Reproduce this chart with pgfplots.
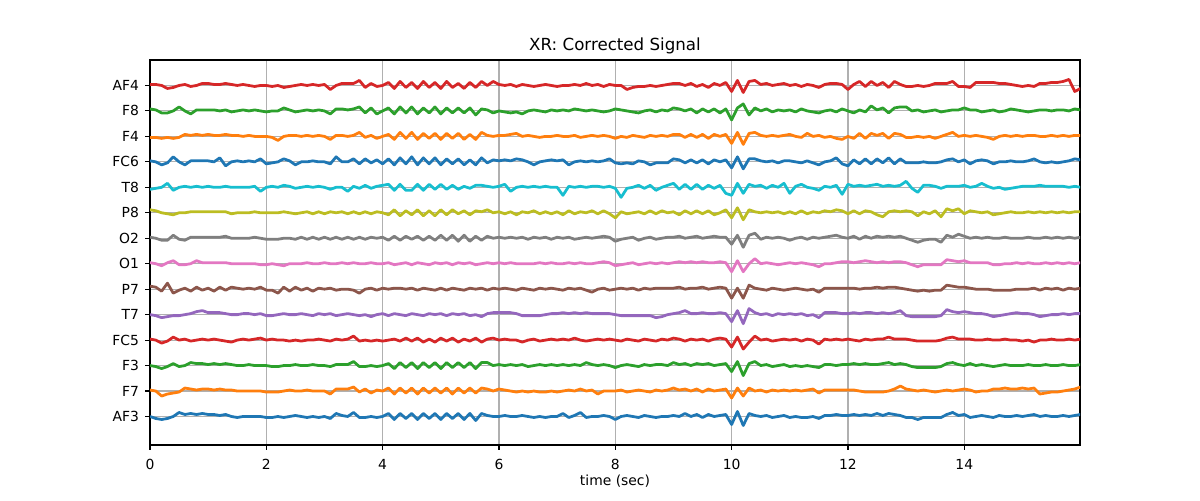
\documentclass[border=0pt]{standalone}
\usepackage{fontspec}
\setmainfont{DejaVu Sans}
\usepackage{pgfplots}
\pgfplotsset{compat=1.18}
\definecolor{tblue}{RGB}{31,119,180}
\definecolor{torange}{RGB}{255,127,14}
\definecolor{tgreen}{RGB}{44,160,44}
\definecolor{tred}{RGB}{214,39,40}
\definecolor{tpurple}{RGB}{148,103,189}
\definecolor{tbrown}{RGB}{140,86,75}
\definecolor{tpink}{RGB}{227,119,194}
\definecolor{tgray}{RGB}{127,127,127}
\definecolor{tolive}{RGB}{188,189,34}
\definecolor{tcyan}{RGB}{23,190,207}
\definecolor{gridgray}{RGB}{176,176,176}
\pgfplotsset{eeg/.style={line width=2pt, line join=round}}
\newcommand{\ch}[3]{\addplot[eeg,color=#1] table[row sep=\\,header=false,x expr=\coordindex*0.1,y expr=#2+(\thisrowno{0})/25.44]{#3};}
\begin{document}
\begin{tikzpicture}
\path[use as bounding box] (0,0) rectangle (864pt,360pt);
\begin{axis}[at={(108pt,39.6pt)}, anchor=south west, scale only axis,
 width=669.6pt, height=277.2pt,
 xmin=0, xmax=15.99, ymin=-1.12, ymax=14.0,
 xtick={0,2,...,14}, ytick={0,...,13},
 yticklabels={AF3,F7,F3,FC5,T7,P7,O1,O2,P8,T8,FC6,F4,F8,AF4},
 grid=major, major grid style={color=gridgray, line width=0.8pt},
 axis line style={line width=0.8pt}, tick style={black, line width=0.8pt},
 major tick length=3.5pt, tick align=outside,
 xtick pos=bottom, ytick pos=left,
 ticklabel style={font=\fontsize{10}{12}\selectfont},
 /pgf/number format/assume math mode=true,
 xticklabel style={anchor=base, inner sep=0pt, yshift=-14.4pt},
 yticklabel style={anchor=east, inner sep=0pt, xshift=-4.3pt},
 title={XR: Corrected Signal},
 title style={font=\fontsize{12}{14}\selectfont, at={(axis description cs:0.5,1)}, anchor=base, yshift=1pt, inner sep=0pt},
 xlabel={time (sec)},
 xlabel style={font=\fontsize{10}{12}\selectfont, at={(axis description cs:0.5,0)}, anchor=base, yshift=-28.8pt, inner sep=0pt},
]
% AF3
\ch{tblue}{0}{0\\-2\\-3\\-2\\0\\4\\2\\3\\2\\3\\
2\\2\\1\\2\\0\\-1\\0\\0\\0\\0\\
-1\\-1\\0\\-1\\0\\1\\0\\-1\\0\\-1\\
0\\-2\\3\\1\\0\\4\\-1\\-1\\0\\-1\\
0\\3\\-3\\3\\-2\\3\\-3\\3\\-2\\3\\
-3\\3\\-2\\3\\-3\\3\\-4\\3\\1\\0\\
0\\1\\0\\0\\1\\0\\-1\\0\\-1\\0\\
0\\3\\-1\\1\\4\\-1\\0\\0\\1\\0\\
-3\\0\\1\\0\\-1\\1\\0\\-1\\0\\0\\
1\\0\\3\\0\\2\\-1\\2\\0\\1\\2\\
-8\\5\\-9\\3\\1\\0\\1\\-1\\0\\1\\
-1\\0\\-1\\-1\\0\\-2\\1\\1\\2\\1\\
1\\2\\1\\2\\1\\3\\1\\3\\2\\1\\
-1\\-1\\-3\\-1\\-1\\-1\\-1\\2\\4\\1\\
2\\-1\\0\\1\\0\\-1\\1\\0\\0\\1\\
0\\1\\2\\0\\1\\0\\0\\1\\0\\1\\
2\\}
% F7
\ch{torange}{1}{1\\0\\-5\\-3\\-2\\-1\\3\\2\\1\\2\\
2\\1\\2\\1\\1\\0\\0\\0\\0\\0\\
-1\\-1\\-1\\0\\1\\0\\0\\1\\0\\0\\
0\\-3\\2\\2\\2\\4\\-1\\2\\-2\\1\\
0\\3\\-3\\3\\-2\\3\\-3\\3\\-2\\3\\
-2\\3\\-3\\3\\-2\\3\\-2\\3\\2\\0\\
2\\1\\0\\-1\\0\\-1\\0\\-1\\-1\\0\\
-1\\0\\1\\0\\2\\0\\1\\-3\\0\\0\\
0\\1\\-1\\0\\1\\0\\-1\\1\\0\\1\\
3\\1\\2\\0\\2\\-1\\2\\0\\1\\2\\
-7\\3\\-5\\3\\0\\1\\-1\\1\\0\\1\\
0\\1\\0\\1\\2\\-2\\1\\1\\1\\1\\
1\\1\\0\\-1\\-1\\-1\\-1\\0\\2\\5\\
2\\1\\0\\1\\0\\-1\\0\\1\\0\\1\\
2\\1\\-1\\0\\0\\2\\2\\3\\2\\2\\
3\\2\\3\\-3\\-2\\-1\\-1\\0\\1\\2\\
4\\}
% F3
\ch{tgreen}{2}{0\\-1\\-3\\-1\\2\\-1\\0\\3\\2\\2\\
1\\2\\1\\2\\1\\0\\0\\1\\0\\0\\
0\\-1\\-1\\0\\0\\1\\0\\0\\1\\0\\
0\\-1\\1\\1\\1\\4\\-1\\-1\\0\\-1\\
0\\2\\-3\\3\\-2\\3\\-3\\3\\-2\\3\\
-3\\3\\-2\\3\\-2\\3\\-3\\3\\3\\0\\
1\\0\\1\\0\\1\\-1\\0\\1\\0\\1\\
0\\1\\0\\1\\0\\3\\1\\0\\1\\0\\
-2\\0\\1\\0\\-1\\1\\0\\1\\1\\0\\
3\\1\\2\\0\\2\\1\\2\\0\\1\\2\\
-6\\4\\-10\\2\\4\\0\\1\\-1\\0\\1\\
-1\\0\\-1\\0\\-1\\-2\\1\\1\\0\\1\\
1\\2\\1\\2\\1\\1\\2\\3\\1\\2\\
1\\-1\\-2\\-2\\-2\\-2\\-1\\2\\3\\1\\
0\\2\\0\\1\\0\\-1\\0\\1\\0\\0\\
0\\1\\0\\0\\1\\0\\0\\1\\0\\0\\
1\\}
% FC5
\ch{tred}{3}{1\\0\\-3\\-1\\3\\0\\1\\-1\\0\\1\\
0\\1\\0\\-1\\-2\\0\\1\\0\\1\\2\\
0\\1\\0\\0\\-1\\0\\-1\\0\\0\\1\\
0\\-1\\1\\0\\1\\4\\-1\\0\\-1\\0\\
-1\\0\\1\\-1\\2\\-1\\2\\-2\\1\\-2\\
2\\-1\\2\\-2\\1\\-1\\2\\-2\\1\\2\\
0\\1\\0\\0\\-2\\0\\1\\-1\\0\\1\\
0\\1\\0\\2\\0\\-1\\0\\1\\0\\1\\
0\\-1\\1\\0\\-1\\1\\0\\-1\\1\\0\\
2\\1\\-1\\1\\0\\1\\-1\\1\\2\\1\\
-7\\3\\-9\\-2\\4\\0\\1\\-1\\0\\1\\
0\\1\\-1\\1\\0\\-4\\1\\0\\1\\0\\
1\\0\\-1\\1\\0\\1\\1\\3\\1\\1\\
1\\0\\-1\\-1\\-1\\-1\\0\\2\\3\\1\\
1\\1\\0\\0\\1\\0\\0\\1\\0\\0\\
-1\\0\\-2\\0\\0\\1\\0\\0\\1\\0\\
1\\}
% T7
\ch{tpurple}{4}{0\\-1\\-3\\-2\\-1\\-1\\0\\1\\3\\4\\
2\\2\\2\\1\\0\\0\\1\\1\\0\\1\\
-1\\-1\\0\\1\\0\\0\\1\\0\\-1\\1\\
0\\1\\-1\\0\\1\\0\\-1\\0\\-2\\0\\
1\\-1\\1\\0\\-1\\1\\0\\-1\\1\\0\\
1\\-1\\1\\0\\1\\-1\\0\\-2\\1\\2\\
2\\2\\2\\1\\-1\\-1\\-1\\-1\\0\\1\\
1\\2\\1\\2\\1\\2\\1\\1\\1\\1\\
0\\-1\\-1\\-1\\-1\\-1\\-1\\-3\\-2\\0\\
1\\2\\4\\1\\1\\2\\1\\1\\2\\1\\
-7\\4\\-9\\6\\2\\0\\1\\-1\\1\\0\\
1\\0\\1\\-1\\0\\-3\\2\\2\\2\\1\\
1\\2\\1\\2\\2\\1\\2\\1\\2\\4\\
-1\\-2\\-2\\-2\\-2\\-2\\-1\\5\\3\\2\\
3\\2\\1\\1\\0\\-2\\-1\\0\\1\\2\\
1\\1\\0\\-2\\-1\\0\\0\\1\\0\\1\\
1\\}
% P7
\ch{tbrown}{5}{3\\2\\-2\\6\\-4\\-1\\1\\-2\\2\\-1\\
1\\-2\\2\\-1\\2\\1\\0\\1\\0\\2\\
-1\\-1\\-4\\2\\-2\\2\\-1\\1\\-2\\1\\
0\\1\\-1\\0\\0\\-1\\-4\\0\\1\\-1\\
1\\0\\1\\1\\0\\1\\-1\\1\\0\\-1\\
1\\-1\\1\\0\\-1\\1\\0\\1\\-1\\1\\
0\\1\\0\\-1\\1\\0\\-1\\1\\0\\1\\
0\\-1\\1\\0\\1\\-1\\-3\\0\\1\\-1\\
0\\1\\0\\1\\-1\\1\\0\\1\\1\\1\\
1\\2\\0\\1\\1\\2\\0\\1\\2\\1\\
-9\\1\\-9\\4\\1\\0\\-1\\1\\0\\-1\\
0\\1\\0\\-1\\0\\-3\\1\\1\\1\\1\\
1\\1\\0\\1\\1\\2\\1\\2\\2\\1\\
0\\-1\\-2\\-1\\-2\\-1\\-1\\4\\3\\2\\
2\\1\\0\\0\\0\\-1\\-1\\-1\\-1\\0\\
0\\0\\1\\-1\\1\\0\\1\\-1\\1\\0\\
1\\}
% O1
\ch{tpink}{6}{1\\0\\-2\\1\\3\\-1\\-1\\0\\3\\1\\
1\\1\\1\\1\\0\\0\\0\\0\\0\\-1\\
-1\\0\\-1\\-2\\0\\0\\0\\1\\0\\0\\
1\\0\\0\\1\\0\\1\\0\\0\\1\\0\\
0\\1\\-1\\0\\1\\-1\\1\\0\\-1\\1\\
0\\1\\-1\\1\\0\\1\\-1\\0\\1\\0\\
1\\0\\1\\0\\0\\0\\0\\1\\0\\1\\
0\\0\\1\\0\\1\\0\\0\\1\\2\\1\\
-2\\-1\\0\\1\\-1\\0\\1\\0\\1\\0\\
1\\2\\1\\2\\1\\2\\1\\1\\2\\1\\
-8\\3\\-8\\0\\5\\0\\1\\0\\-1\\0\\
1\\0\\1\\0\\-1\\-3\\0\\0\\1\\2\\
2\\1\\2\\3\\2\\1\\2\\1\\2\\2\\
1\\-1\\-3\\-1\\-1\\-1\\-1\\4\\3\\2\\
3\\1\\1\\1\\1\\-1\\-1\\0\\0\\1\\
0\\1\\0\\0\\1\\0\\1\\0\\1\\0\\
1\\}
% O2
\ch{tgray}{7}{1\\0\\-2\\-2\\3\\-1\\-2\\1\\1\\1\\
1\\1\\1\\2\\0\\0\\0\\0\\1\\0\\
-1\\-1\\-1\\0\\0\\-1\\1\\-1\\1\\-1\\
1\\-1\\1\\-1\\1\\-1\\1\\-1\\1\\0\\
1\\-2\\2\\-2\\2\\-1\\2\\-2\\2\\-2\\
3\\-2\\3\\-3\\3\\-3\\2\\-2\\2\\0\\
1\\0\\1\\0\\1\\-1\\1\\0\\1\\-1\\
1\\0\\1\\-1\\0\\1\\0\\1\\2\\1\\
-3\\-1\\0\\1\\-2\\0\\1\\-1\\0\\1\\
1\\2\\0\\1\\2\\0\\1\\2\\1\\1\\
-6\\3\\-9\\3\\5\\-1\\1\\0\\1\\0\\
-2\\0\\1\\-1\\1\\0\\1\\2\\3\\1\\
0\\2\\-1\\2\\0\\2\\1\\2\\1\\2\\
0\\-2\\-4\\-2\\-1\\-1\\-4\\3\\1\\4\\
2\\0\\1\\0\\1\\0\\0\\1\\0\\0\\
0\\1\\0\\0\\1\\0\\1\\0\\1\\0\\
1\\}
% P8
\ch{tolive}{8}{3\\2\\0\\-1\\-2\\0\\0\\1\\1\\1\\
1\\1\\1\\1\\-1\\0\\0\\0\\1\\0\\
0\\0\\0\\1\\0\\-1\\0\\1\\-1\\1\\
-1\\1\\0\\1\\-1\\1\\-1\\1\\-1\\1\\
0\\-2\\3\\-3\\2\\-2\\3\\-3\\2\\-3\\
3\\-2\\3\\-1\\2\\-2\\2\\1\\3\\0\\
1\\-1\\1\\-2\\1\\0\\2\\-1\\1\\-1\\
1\\-2\\2\\-1\\1\\0\\2\\-1\\2\\-1\\
-5\\1\\-1\\0\\1\\-1\\2\\-1\\2\\0\\
1\\-2\\2\\-1\\2\\-1\\2\\-2\\0\\3\\
-5\\5\\-7\\3\\1\\0\\1\\0\\1\\-1\\
1\\-1\\2\\-1\\1\\0\\2\\1\\3\\2\\
-1\\2\\-1\\2\\1\\-2\\-4\\1\\2\\1\\
2\\1\\-3\\1\\-1\\2\\-4\\4\\2\\4\\
-1\\2\\1\\0\\1\\-2\\-1\\0\\1\\0\\
0\\1\\0\\1\\0\\1\\0\\1\\0\\1\\
1\\}
% T8
\ch{tcyan}{9}{-2\\-1\\0\\4\\-3\\0\\1\\0\\1\\0\\
1\\0\\0\\1\\0\\0\\0\\0\\1\\-4\\
0\\1\\0\\2\\1\\-1\\0\\1\\0\\1\\
0\\-2\\0\\0\\-4\\1\\-1\\2\\-1\\1\\
2\\3\\-3\\3\\-3\\-3\\3\\-3\\3\\-2\\
3\\-2\\2\\-2\\1\\-1\\2\\2\\1\\0\\
1\\3\\-4\\0\\1\\0\\1\\0\\1\\0\\
0\\-8\\1\\0\\1\\0\\1\\1\\0\\1\\
-1\\-10\\-1\\0\\2\\-1\\2\\-3\\0\\2\\
4\\-2\\3\\-2\\3\\-2\\2\\-1\\2\\-6\\
-8\\4\\-6\\3\\1\\2\\-1\\2\\0\\4\\
-6\\1\\3\\0\\-1\\-3\\1\\0\\2\\-7\\
3\\1\\2\\1\\2\\3\\1\\2\\1\\2\\
6\\-1\\-5\\2\\2\\1\\-1\\1\\1\\1\\
2\\0\\1\\4\\1\\-1\\0\\-2\\-1\\0\\
1\\1\\1\\2\\1\\1\\1\\1\\0\\1\\
0\\}
% FC6
\ch{tblue}{10}{1\\0\\-3\\-1\\5\\0\\-3\\1\\1\\1\\
1\\0\\4\\-4\\0\\1\\0\\1\\0\\3\\
-2\\-1\\0\\3\\1\\-3\\0\\0\\1\\0\\
0\\-2\\5\\0\\0\\3\\-2\\3\\-1\\2\\
-2\\3\\-3\\4\\-2\\5\\-3\\4\\-2\\4\\
-3\\3\\-2\\3\\-3\\2\\-3\\4\\-1\\2\\
1\\2\\1\\3\\2\\0\\-3\\0\\1\\2\\
1\\2\\-3\\0\\1\\0\\1\\0\\1\\3\\
-1\\-2\\-1\\-2\\1\\0\\-3\\-1\\-1\\-1\\
3\\2\\-1\\2\\-1\\2\\-2\\2\\0\\2\\
-6\\5\\-7\\3\\3\\1\\0\\1\\-1\\1\\
1\\0\\-1\\1\\-1\\-3\\0\\1\\4\\-2\\
-4\\2\\-2\\3\\-2\\3\\-1\\4\\-2\\3\\
-1\\-1\\-1\\0\\-1\\-1\\0\\2\\3\\0\\
2\\-2\\1\\2\\1\\-2\\0\\0\\1\\0\\
0\\1\\3\\0\\-1\\0\\-1\\0\\1\\3\\
2\\}
% F4
\ch{torange}{11}{-1\\-1\\-2\\-1\\-2\\-1\\2\\1\\2\\1\\
2\\1\\1\\2\\1\\1\\0\\1\\0\\0\\
0\\-1\\-4\\0\\1\\1\\0\\1\\0\\1\\
0\\-3\\1\\1\\0\\1\\4\\-1\\1\\-2\\
0\\2\\-3\\4\\-2\\4\\-3\\3\\-2\\3\\
-3\\3\\-2\\3\\-3\\2\\-3\\4\\1\\0\\
1\\1\\2\\3\\0\\1\\0\\-1\\0\\0\\
1\\0\\0\\1\\-1\\0\\1\\0\\1\\0\\
-2\\0\\-1\\1\\0\\-1\\1\\0\\1\\0\\
2\\2\\-1\\2\\-1\\2\\-2\\2\\0\\2\\
-7\\4\\-8\\3\\4\\1\\0\\1\\0\\1\\
2\\0\\-1\\3\\0\\1\\-1\\0\\-2\\-3\\
0\\-2\\3\\-2\\3\\1\\3\\-2\\3\\2\\
-1\\-1\\0\\-1\\0\\-2\\0\\2\\4\\0\\
1\\0\\1\\0\\-1\\-3\\0\\1\\0\\1\\
0\\1\\1\\0\\0\\1\\0\\1\\0\\1\\
1\\}
% F8
\ch{tgreen}{12}{2\\1\\-2\\-2\\0\\4\\0\\-3\\1\\1\\
1\\1\\0\\1\\-1\\0\\1\\0\\1\\0\\
-1\\0\\0\\3\\1\\-1\\0\\1\\0\\1\\
0\\-3\\2\\2\\1\\2\\4\\-2\\3\\-3\\
0\\3\\-3\\4\\-2\\4\\-3\\3\\-2\\4\\
-3\\3\\-2\\3\\-2\\3\\-4\\2\\1\\-2\\
0\\-1\\-2\\-1\\-3\\0\\1\\0\\-1\\1\\
0\\1\\0\\2\\1\\0\\1\\0\\-1\\0\\
2\\1\\0\\-1\\-2\\0\\1\\-1\\1\\0\\
3\\2\\0\\2\\-2\\2\\-1\\2\\-2\\2\\
-9\\3\\7\\-4\\3\\0\\2\\-1\\1\\0\\
1\\-1\\2\\0\\-1\\-2\\0\\1\\-1\\2\\
0\\-2\\1\\-1\\5\\1\\3\\-2\\3\\4\\
4\\0\\1\\-1\\0\\1\\-1\\0\\1\\1\\
3\\1\\1\\-1\\0\\1\\-1\\0\\2\\1\\
0\\-1\\0\\1\\1\\0\\1\\1\\0\\2\\
1\\}
% AF4
\ch{tred}{13}{1\\1\\0\\-3\\-2\\0\\1\\-1\\0\\2\\
2\\1\\1\\2\\1\\0\\1\\0\\-1\\0\\
0\\-1\\0\\-2\\-1\\0\\1\\0\\1\\0\\
1\\-4\\0\\2\\2\\2\\5\\-2\\2\\-1\\
0\\3\\-3\\4\\-2\\3\\-3\\4\\-2\\3\\
-3\\4\\-2\\2\\-3\\3\\-2\\4\\0\\4\\
1\\0\\1\\-1\\1\\0\\-1\\0\\1\\0\\
-1\\0\\0\\1\\0\\2\\0\\1\\-1\\1\\
0\\0\\-4\\-2\\-1\\-1\\0\\-1\\0\\1\\
2\\2\\0\\2\\-1\\1\\-2\\2\\0\\3\\
-6\\5\\-7\\4\\5\\1\\2\\0\\1\\2\\
0\\1\\-1\\1\\0\\-2\\1\\2\\2\\1\\
-4\\1\\4\\-1\\4\\0\\3\\-2\\4\\1\\
-1\\-1\\0\\-1\\0\\2\\2\\2\\4\\-1\\
-1\\-2\\3\\3\\3\\3\\2\\2\\1\\0\\
-1\\0\\-1\\2\\2\\3\\3\\4\\6\\-6\\
-3\\}
\end{axis}
\end{tikzpicture}
\end{document}
